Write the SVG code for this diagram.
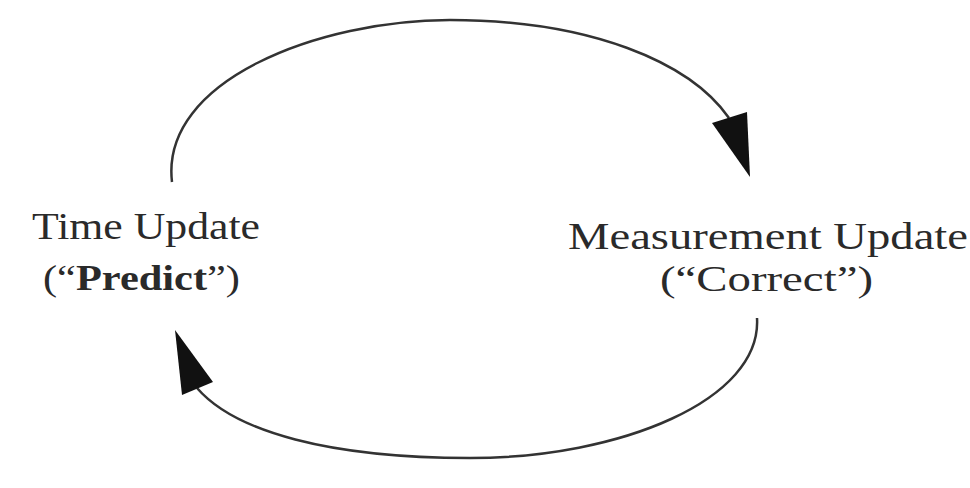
<svg xmlns="http://www.w3.org/2000/svg" width="970" height="488" viewBox="0 0 970 488">
<style>
.lbl{font-family:"Liberation Serif","Times New Roman",serif;font-size:38px;fill:#2a2a2a}
.sub{font-size:36px}
.edge{fill:none;stroke:#333;stroke-width:2.5}
.head{fill:#111}
</style>
<rect width="970" height="488" fill="#fff"/>
<g id="connectors">
<path class="edge" d="M172,182 C160,80 320,20 450,20 C590,20 690,62 729,118"/>
<polygon class="head" points="750,177 712,123 747,112"/>
<path class="edge" d="M757,318 C762,400 620,458 470,458 C330,458 235,432 197,388"/>
<polygon class="head" points="175,330 182,395 213,382"/>
</g>
<g id="time-update">
<text class="lbl" x="32" y="239" textLength="228" lengthAdjust="spacingAndGlyphs">Time Update</text>
<text class="lbl sub" x="43" y="290" textLength="197" lengthAdjust="spacingAndGlyphs">(“<tspan font-weight="bold">Predict</tspan>”)</text>
</g>
<g id="measurement-update">
<text class="lbl" x="568" y="249" textLength="400" lengthAdjust="spacingAndGlyphs">Measurement Update</text>
<text class="lbl sub" x="660" y="291" textLength="213" lengthAdjust="spacingAndGlyphs">(“Correct”)</text>
</g>
</svg>
